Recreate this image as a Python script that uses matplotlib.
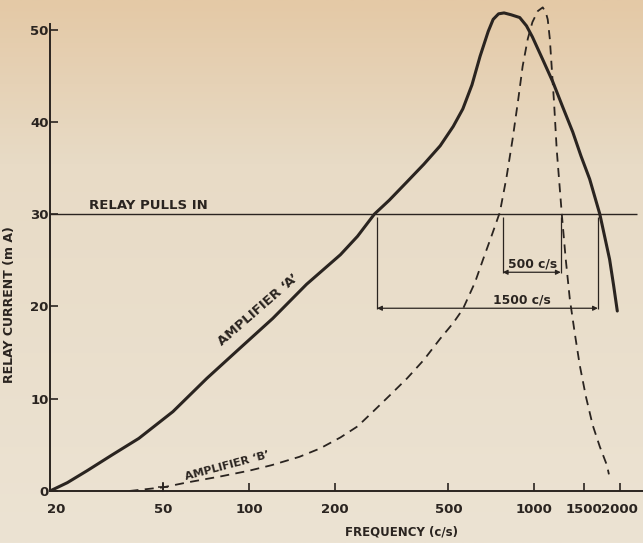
import numpy as np
import matplotlib.pyplot as plt
import matplotlib.transforms as mtransforms
from matplotlib.colors import LinearSegmentedColormap
from matplotlib.ticker import NullLocator

plt.rcParams['font.family'] = ['DejaVu Sans']
plt.rcParams['font.weight'] = 'bold'
plt.rcParams['axes.labelweight'] = 'bold'

# amplifier A (solid)
freq_a = [20, 23, 27, 33, 41, 54, 71, 93, 121, 159, 209, 240, 275, 310, 358, 410,
          468, 520, 562, 605, 646, 690, 718, 750, 784, 830, 890, 940, 986, 1070,
          1164, 1260, 1366, 1460, 1566, 1700, 1770, 1840, 1900, 1958]
amp_a = [0, 0.9, 2.2, 3.9, 5.7, 8.6, 12.2, 15.5, 18.7, 22.4, 25.6, 27.6, 30.0, 31.5,
         33.5, 35.4, 37.4, 39.5, 41.4, 44.0, 47.1, 49.8, 51.1, 51.7, 51.8, 51.6,
         51.3, 50.4, 49.2, 46.8, 44.3, 41.6, 38.9, 36.3, 33.8, 30.0, 27.5, 25.1,
         22.3, 19.5]

# amplifier B (dashed)
freq_b = [38, 50, 60, 80, 100, 120, 150, 177, 209, 240, 272, 310, 358, 410, 468,
          520, 562, 620, 662, 710, 758, 800, 840, 880, 911, 950, 986, 1030, 1072,
          1100, 1116, 1135, 1152, 1175, 1200, 1225, 1252, 1290, 1334, 1390, 1446,
          1520, 1606, 1700, 1800, 1830]
amp_b = [0, 0.4, 0.9, 1.6, 2.2, 2.8, 3.7, 4.6, 5.8, 7.0, 8.6, 10.3, 12.2, 14.2,
         16.5, 18.2, 19.7, 22.6, 25.1, 27.7, 30.2, 34.0, 38.1, 42.5, 46.0, 49.0,
         50.8, 52.0, 52.4, 51.8, 51.1, 49.0, 46.0, 42.0, 37.0, 33.5, 29.8, 25.2,
         20.8, 17.0, 13.6, 10.2, 7.1, 4.8, 2.8, 1.8]
cross_b = (50, 0.4)

relay_level = 30
band_b = [776, 1240]     # 500 c/s
band_a = [281, 1674]     # 1500 c/s
band_b_level = 23.7
band_a_level = 19.8

xticks = [20, 50, 100, 200, 500, 1000, 1500, 2000]
yticks = [0, 10, 20, 30, 40, 50]

ink = '#2a2420'
paper_top = '#e4c9a6'
paper_mid = '#e8dbc6'
paper_low = '#ece3d3'

fig = plt.figure(figsize=(6.43, 5.43), dpi=100, facecolor=paper_low)

# aged paper tint, darker towards the top
bg = fig.add_axes([0, 0, 1, 1], zorder=-1)
cmap = LinearSegmentedColormap.from_list(
    'paper', [(0, paper_top), (0.3, paper_mid), (1, paper_low)])
bg.imshow(np.linspace(0, 1, 200)[:, None], aspect='auto', cmap=cmap,
          extent=(0, 1, 0, 1))
bg.axis('off')

ax = fig.add_axes([0.0778, 0.0958, 0.9222, 0.9042])
ax.patch.set_alpha(0)
ax.set_xscale('log')
ax.set_xlim(20, 2410)
ax.set_ylim(0, 53.2)

ax.plot(freq_a, amp_a, color=ink, lw=2.2, solid_capstyle='round',
        solid_joinstyle='round')
ax.plot(freq_b, amp_b, color=ink, lw=1.3, dashes=(5, 3.5))
ax.plot(*cross_b, marker='+', ms=7, mew=1.1, color=ink)

ax.hlines(relay_level, 20, 2300, color=ink, lw=1.0)
ax.text(27.5, relay_level + 0.6, 'RELAY PULLS IN', fontsize=9.5, color=ink)

# pull-in bandwidth brackets
for band, lvl, lab, tx in [(band_b, band_b_level, '500 c/s', 985),
                           (band_a, band_a_level, '1500 c/s', 905)]:
    ax.vlines(band, lvl - 0.1, relay_level - 0.3, color=ink, lw=0.9)
    ax.annotate('', xy=(band[1], lvl), xytext=(band[0], lvl),
                arrowprops=dict(arrowstyle='<|-|>', color=ink, lw=0.9,
                                mutation_scale=7, shrinkA=0, shrinkB=0))
    ax.text(tx, lvl + 0.15, lab, fontsize=8.8, color=ink, ha='center', va='bottom')

ax.text(108, 19.6, "AMPLIFIER \u2018A\u2019", fontsize=9.5, color=ink,
        rotation=41, ha='center', va='center')
ax.text(84, 2.7, "AMPLIFIER \u2018B\u2019", fontsize=8, color=ink,
        rotation=15, ha='center', va='center')

for s in ['top', 'right']:
    ax.spines[s].set_visible(False)
for s in ['left', 'bottom']:
    ax.spines[s].set_color(ink)
    ax.spines[s].set_linewidth(1.4)
ax.spines['left'].set_bounds(0, 50.6)

ax.xaxis.set_minor_locator(NullLocator())
ax.set_xticks(xticks)
ax.set_xticklabels([str(t) for t in xticks])
ax.set_yticks(yticks)
ax.tick_params(direction='in', length=6, width=1.2, color=ink, labelcolor=ink,
               labelsize=9.5)
ax.tick_params(axis='x', pad=9)
ax.tick_params(axis='y', pad=1)
# nudge the "20" off the "0" in the corner
first = ax.get_xticklabels()[0]
first.set_transform(first.get_transform() +
                    mtransforms.ScaledTranslation(6 / 100, 0, fig.dpi_scale_trans))

ax.set_xlabel('FREQUENCY (c/s)', fontsize=8.5, color=ink)
ax.xaxis.set_label_coords(0.592, -0.07)
ax.set_ylabel('RELAY CURRENT (m A)', fontsize=9, color=ink)
ax.yaxis.set_label_coords(-0.058, 0.38)

fig.savefig('out.png', dpi=100)
